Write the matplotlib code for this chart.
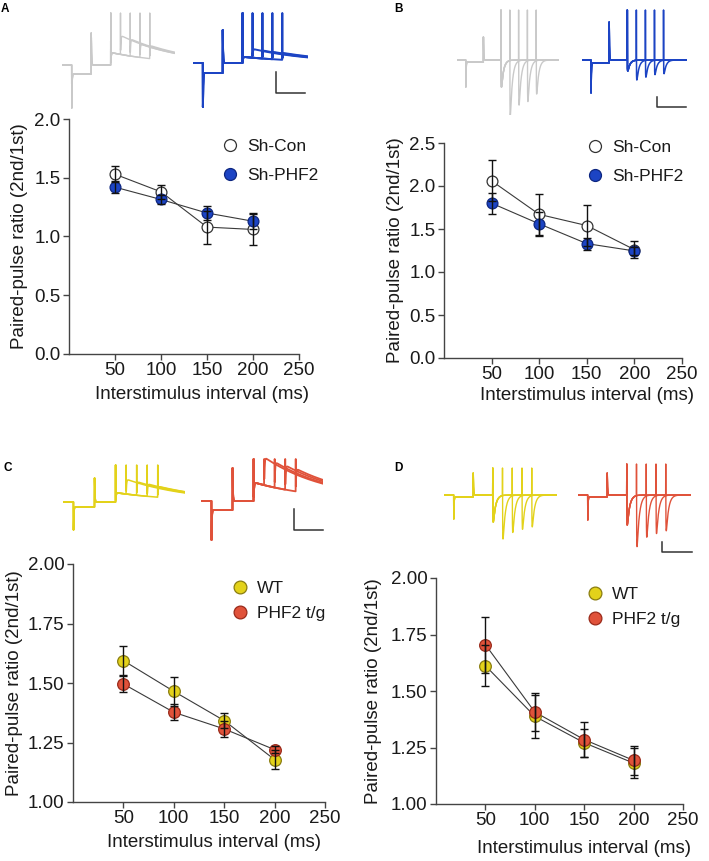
import numpy as np
import matplotlib.pyplot as plt
from matplotlib.lines import Line2D

plt.rcParams['font.family'] = ['Liberation Sans', 'DejaVu Sans']

W, H = 709, 861

# paired-pulse ratio (mean, SEM) per interstimulus interval
isi = [50, 100, 150, 200]

ab_labels = ['Sh-Con', 'Sh-PHF2']
a_con = [1.53, 1.38, 1.08, 1.06]
a_con_err = [0.07, 0.06, 0.14, 0.13]
a_phf2 = [1.42, 1.315, 1.20, 1.13]
a_phf2_err = [0.05, 0.04, 0.06, 0.07]

b_con = [2.06, 1.67, 1.54, 1.26]
b_con_err = [0.24, 0.24, 0.24, 0.10]
b_phf2 = [1.80, 1.56, 1.33, 1.245]
b_phf2_err = [0.12, 0.14, 0.07, 0.05]

cd_labels = ['WT', 'PHF2 t/g']
c_wt = [1.594, 1.465, 1.342, 1.178]
c_wt_err = [0.06, 0.06, 0.03, 0.04]
c_tg = [1.496, 1.377, 1.307, 1.22]
c_tg_err = [0.035, 0.033, 0.035, 0.015]

d_wt = [1.612, 1.388, 1.271, 1.181]
d_wt_err = [0.09, 0.094, 0.063, 0.067]
d_tg = [1.705, 1.407, 1.285, 1.193]
d_tg_err = [0.124, 0.084, 0.078, 0.064]

# example trace shapes: [artifact, test-pulse on, test-pulse step, test-pulse off, 1st response]
a_gray_tr = [52, -34, -9, 32, 12]
a_blue_tr = [50, -34, -10, 33, 6]
b_gray_tr = [50, -25, -2, 23, -27]
b_blue_tr = [50, -30, -3, 38, -11]
c_yel_tr = [37, -23, -5, 24, 9]
c_red_tr = [42, -30, -9, 33, 18]
d_yel_tr = [27, -22, -2, 22, -27]
d_red_tr = [31, -23, -2, 22, -30]

GRAY = '#c9c9c9'
BLUE = '#1c44c4'
YEL = '#e3d21a'
RED = '#e0523a'

fig = plt.figure(figsize=(W / 100, H / 100), dpi=100)


def px_axes(l, t, r, b):
    return fig.add_axes([l / W, 1 - b / H, (r - l) / W, (b - t) / H])


t = np.arange(0, 580, 0.5)
TP_ON, TP_OFF, STIM1 = 50, 150, 250


def kernel(t0, rise, decay):
    s = np.clip(t - t0, 0, None)
    k = np.exp(-s / decay) - np.exp(-s / rise)
    k[t < t0] = 0
    return k / k.max()


def sweep(p, gap, ratio, slow):
    spike, tp_on, step, tp_off, resp = p
    y = np.zeros_like(t)
    y[(t >= TP_ON) & (t < TP_OFF)] = step
    y += tp_on * np.where(t >= TP_ON, np.exp(-(t - TP_ON) / 1.5), 0)
    y += tp_off * np.where(t >= TP_OFF, np.exp(-(t - TP_OFF) / 1.5), 0)
    rise, decay = (2, 300) if slow else (1, 12)
    y += resp * kernel(STIM1, rise, decay)
    y += resp * ratio * kernel(STIM1 + gap, rise, decay)
    for s in (STIM1, STIM1 + gap):
        y[np.argmin(abs(t - s))] = spike
    return y


def draw_traces(l, r, top, bot, base, p, ratios, color, slow, lw):
    ax = px_axes(l, top, r, bot)
    for gap, ratio in zip(isi, ratios):
        ax.plot(t, sweep(p, gap, ratio, slow), color=color, lw=lw)
    ax.set_xlim(t[0], t[-1])
    ax.set_ylim(base - bot, base - top)
    ax.axis('off')


def scale_bar(x, y0, y1, x1):
    fig.add_artist(Line2D([x / W, x / W, x1 / W], [1 - y0 / H, 1 - y1 / H, 1 - y1 / H],
                          color='#333333', lw=1.1))


draw_traces(62, 175, 10, 110, 65, a_gray_tr, a_con, GRAY, True, 1.0)
draw_traces(193, 308, 10, 110, 63, a_blue_tr, a_phf2, BLUE, True, 1.4)
scale_bar(276, 72, 93, 305)

draw_traces(457, 559, 5, 115, 60, b_gray_tr, b_con, GRAY, False, 1.0)
draw_traces(582, 687, 5, 115, 60, b_blue_tr, b_phf2, BLUE, False, 1.1)
scale_bar(657, 97, 107, 686)

draw_traces(63, 185, 455, 545, 502, c_yel_tr, c_wt, YEL, True, 1.1)
draw_traces(201, 323, 455, 545, 501, c_red_tr, c_tg, RED, True, 1.3)
scale_bar(294, 509, 530, 323)

draw_traces(444, 557, 460, 552, 495, d_yel_tr, d_wt, YEL, False, 1.0)
draw_traces(578, 691, 460, 552, 495, d_red_tr, d_tg, RED, False, 1.0)
scale_bar(662, 542, 552, 692)


def ppr_panel(box, series, labels, styles, ylim, yticks, fmt, ylab_x, xlab_xy, leg_xy, ms, lsp):
    ax = px_axes(*box)
    for (m, e), st in zip(series, styles):
        ax.plot(isi, m, '-', color='#3a3a3a', lw=0.8, zorder=2)
        ax.plot(isi, m, 'o', ms=ms, mfc=st[0], mec=st[1], mew=0.9, zorder=3, clip_on=False)
    for m, e in series:
        ax.errorbar(isi, m, yerr=e, fmt='none', ecolor='#111111', elinewidth=1.0,
                    capsize=3, capthick=1.0, zorder=4)
    ax.set_xlim(0, 250)
    ax.set_ylim(*ylim)
    ax.set_xticks([50, 100, 150, 200, 250])
    ax.set_yticks(yticks)
    ax.set_yticklabels([fmt % v for v in yticks])
    for s in ('top', 'right'):
        ax.spines[s].set_visible(False)
    for s in ('left', 'bottom'):
        ax.spines[s].set_color('#444444')
        ax.spines[s].set_linewidth(1.0)
    ax.tick_params(labelsize=13.5, length=4, width=1.0, color='#444444',
                   labelcolor='#1a1a1a', pad=2)
    ax.set_ylabel('Paired-pulse ratio (2nd/1st)', fontsize=13.5, color='#1a1a1a')
    ax.set_xlabel('Interstimulus interval (ms)', fontsize=13.5, color='#1a1a1a')
    ax.yaxis.set_label_coords(ylab_x, 0.5)
    ax.xaxis.set_label_coords(*xlab_xy)
    handles = [Line2D([], [], ls='none', marker='o', ms=ms + 0.8, mfc=st[0], mec=st[1], mew=0.9)
               for st in styles]
    ax.legend(handles, labels, loc='upper left', bbox_to_anchor=(leg_xy[0] / W, 1 - leg_xy[1] / H),
              bbox_transform=fig.transFigure, frameon=False, fontsize=12.5, borderpad=0,
              borderaxespad=0, handlelength=1.0, handletextpad=0.5, labelspacing=lsp,
              labelcolor='#1a1a1a')
    return ax


open_st = ('white', '#333333')
blue_st = (BLUE, '#0d2680')
yel_st = (YEL, '#8a7d10')
red_st = (RED, '#9a2a1a')

ppr_panel((69, 119, 299, 354), [(a_con, a_con_err), (a_phf2, a_phf2_err)], ab_labels,
          [open_st, blue_st], (0, 2.0), [0, 0.5, 1.0, 1.5, 2.0], '%.1f',
          -0.178, (0.578, -0.138), (221, 139), 7.8, 0.8)
ppr_panel((444, 143, 682, 358), [(b_con, b_con_err), (b_phf2, b_phf2_err)], ab_labels,
          [open_st, blue_st], (0, 2.5), [0, 0.5, 1.0, 1.5, 2.0, 2.5], '%.1f',
          -0.168, (0.60, -0.136), (586, 140), 7.8, 0.8)
ppr_panel((73, 564, 325, 802), [(c_wt, c_wt_err), (c_tg, c_tg_err)], cd_labels,
          [yel_st, red_st], (1.0, 2.0), [1.0, 1.25, 1.5, 1.75, 2.0], '%.2f',
          -0.197, (0.56, -0.135), (231, 581), 8.4, 0.57)
ppr_panel((436, 578, 683, 804), [(d_wt, d_wt_err), (d_tg, d_tg_err)], cd_labels,
          [yel_st, red_st], (1.0, 2.0), [1.0, 1.25, 1.5, 1.75, 2.0], '%.2f',
          -0.219, (0.60, -0.158), (586, 587), 8.4, 0.57)

for x, y, s in [(1, 3, 'A'), (394, 3, 'B'), (3, 462, 'C'), (394, 462, 'D')]:
    fig.text(x / W, 1 - y / H, s, fontsize=8.5, fontweight='bold', va='top', ha='left')

fig.savefig('out.png', dpi=100)
